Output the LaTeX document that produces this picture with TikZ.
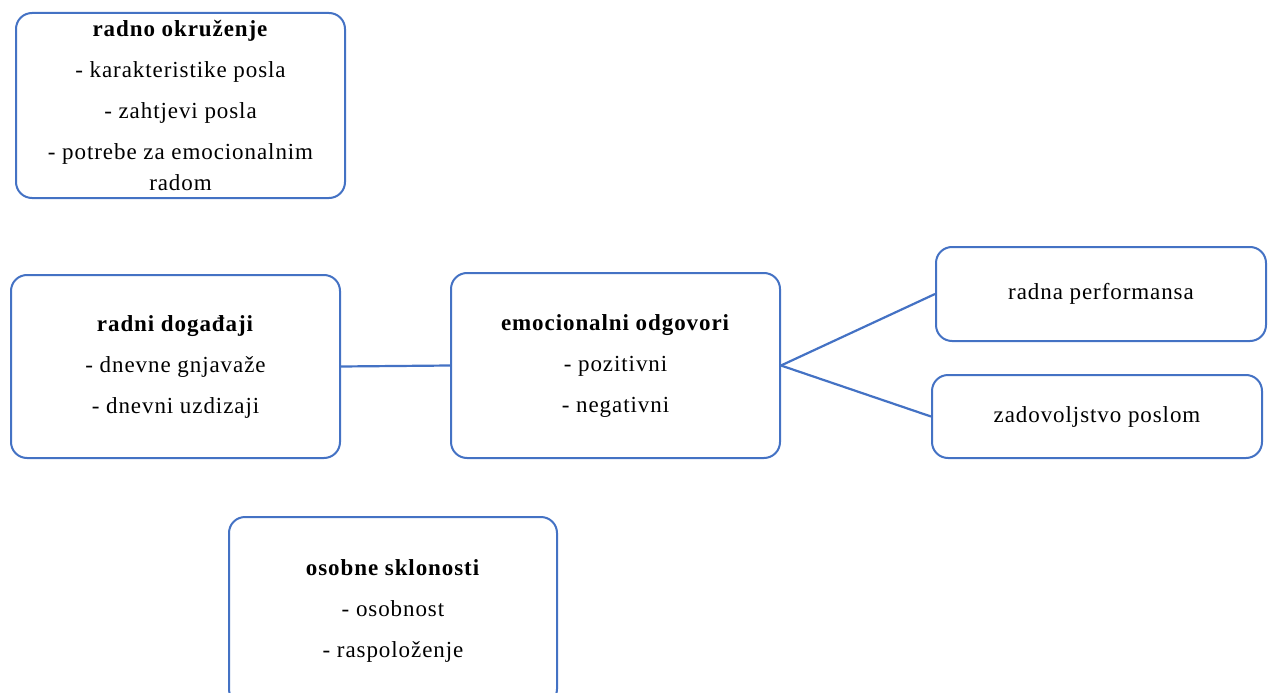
\documentclass[tikz,border=0pt]{standalone}
\usepackage{fontspec}
\setmainfont{Liberation Serif}[LetterSpace=4]
\usetikzlibrary{positioning}

\tikzset{
  okvir/.style={draw=linija, line width=2pt, rounded corners=16pt, fill=white,
    align=center, inner sep=0pt, font=\fontsize{23}{41}\selectfont},
  veza/.style={draw=linija, line width=2.2pt}
}
\definecolor{linija}{HTML}{4472C4}

\begin{document}
\begin{tikzpicture}[x=1pt,y=-1pt]
  \useasboundingbox (0,0) rectangle (1272,693);
  \node[okvir, minimum width=329pt, minimum height=185pt] (okruzenje) at (180.5,105.5)
    {\textbf{radno okruženje}\\- karakteristike posla\\- zahtjevi posla\\- potrebe za emocionalnim\\[-10pt]radom};
  \node[okvir, minimum width=329pt, minimum height=183pt] (dogadaji) at (175.5,366.5)
    {\textbf{radni događaji}\\- dnevne gnjavaže\\- dnevni uzdizaji};
  \node[okvir, minimum width=329pt, minimum height=185pt] (odgovori) at (615.5,365.5)
    {\textbf{emocionalni odgovori}\\- pozitivni\\- negativni};
  \node[okvir, minimum width=330pt, minimum height=94pt] (performansa) at (1101,294)
    {radna performansa};
  \node[okvir, minimum width=330pt, minimum height=83pt] (zadovoljstvo) at (1097,416.5)
    {zadovoljstvo poslom};
  \node[okvir, minimum width=328pt, minimum height=188pt] (sklonosti) at (393,611)
    {\textbf{osobne sklonosti}\\- osobnost\\- raspoloženje};

  \draw[veza] (dogadaji.east) -- (odgovori.west);
  \draw[veza] (odgovori.east) -- (performansa.west);
  \draw[veza] (odgovori.east) -- (zadovoljstvo.west);
\end{tikzpicture}
\end{document}
